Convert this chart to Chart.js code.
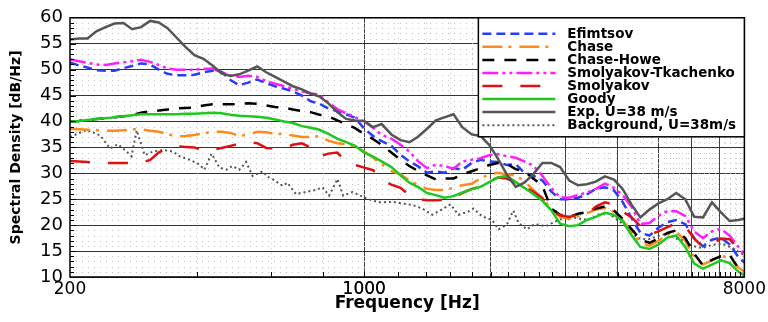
<!DOCTYPE html>
<html>
<head>
<meta charset="utf-8">
<title>Wall pressure spectra</title>
<script src="https://cdn.jsdelivr.net/npm/chart.js@4.4.1/dist/chart.umd.min.js"></script>
<style>
  html, body { margin: 0; padding: 0; background: #fff; }
</style>
</head>
<body>
<canvas id="psdChart" width="768" height="322"></canvas>
<script>
// frequency grid (Hz) shared by the model curves and the measurement
const freqs = [200, 210, 220, 231, 243, 255, 268, 281, 295, 310,
    325, 341, 358, 376, 395, 415, 436, 458, 481, 505,
    530, 557, 585, 614, 645, 677, 711, 746, 783, 822,
    863, 906, 951, 1000, 1050, 1100, 1160, 1220, 1280, 1340,
    1410, 1480, 1550, 1630, 1710, 1800, 1890, 1980, 2080, 2180,
    2290, 2400, 2520, 2650, 2780, 2920, 3070, 3220, 3380, 3550,
    3730, 3920, 4110, 4320, 4530, 4760, 5000, 5250, 5510, 5790,
    6080, 6380, 6700, 7030, 7380, 7750, 8000];

// spectral density, dB/Hz
const efimtsov = [51.4, 50.8, 50.4, 49.9, 49.8, 49.8, 50.3, 50.7, 51.2, 51.0,
    50.0, 49.2, 48.9, 48.9, 49.0, 49.5, 49.8, 49.6, 48.0, 47.0,
    47.5, 48.1, 47.4, 46.8, 46.3, 45.8, 45.0, 43.9, 43.4, 42.5,
    42.0, 41.4, 40.7, 38.6, 37.2, 36.2, 35.3, 33.6, 32.3, 31.4,
    30.1, 30.4, 30.1, 31.0, 30.7, 32.0, 32.6, 32.3, 32.2, 31.6,
    31.8, 30.1, 29.6, 28.6, 26.5, 25.0, 25.0, 25.3, 25.9, 27.0,
    27.3, 26.7, 24.5, 21.3, 18.5, 18.0, 19.5, 20.6, 21.0, 20.2,
    17.5, 15.9, 17.2, 17.6, 16.3, 13.8, 12.8];
const chase = [38.6, 38.5, 38.4, 38.3, 38.2, 38.2, 38.3, 38.5, 38.5, 38.2,
    38.0, 37.6, 37.1, 37.2, 37.4, 37.7, 38.0, 38.0, 37.8, 37.2,
    37.5, 38.0, 37.9, 37.6, 37.6, 37.3, 37.0, 37.0, 37.2, 36.3,
    35.8, 35.6, 35.2, 34.2, 33.0, 31.8, 30.4, 29.8, 28.6, 27.8,
    27.0, 26.8, 26.8, 27.2, 27.7, 28.0, 29.0, 29.8, 30.1, 29.8,
    29.6, 28.5, 26.8, 25.2, 23.2, 21.6, 21.2, 21.7, 22.3, 23.0,
    23.3, 22.6, 21.0, 18.6, 16.6, 16.0, 17.0, 18.2, 18.7, 17.0,
    13.8, 12.4, 13.2, 14.0, 13.8, 11.8, 11.0];
const chaseHowe = [40.0, 40.1, 40.3, 40.5, 40.6, 40.8, 41.0, 41.2, 41.7, 42.0,
    42.1, 42.3, 42.5, 42.6, 42.7, 43.1, 43.3, 43.3, 43.3, 43.4,
    43.5, 43.4, 43.1, 42.8, 42.7, 42.3, 42.0, 41.8, 41.3, 41.0,
    40.2, 39.5, 38.7, 37.6, 36.6, 35.5, 34.0, 32.6, 31.4, 30.5,
    29.6, 28.8, 29.0, 29.0, 29.8, 30.4, 31.0, 31.6, 32.0, 31.8,
    30.8, 30.4, 29.0, 27.6, 23.2, 22.0, 21.6, 22.2, 22.5, 23.2,
    23.6, 22.8, 21.2, 19.2, 17.2, 16.6, 17.4, 18.5, 19.0, 17.5,
    14.5, 12.2, 13.3, 14.0, 14.3, 11.6, 11.0];
const smolTkach = [52.0, 51.6, 51.3, 51.0, 50.9, 51.2, 51.4, 51.6, 51.9, 51.5,
    50.9, 50.2, 50.0, 50.0, 50.0, 50.1, 50.2, 49.5, 48.9, 48.6,
    48.8, 48.6, 47.8, 47.3, 46.8, 46.3, 45.8, 45.4, 45.2, 43.6,
    42.4, 41.6, 40.8, 40.0, 38.8, 37.4, 36.7, 35.5, 34.2, 32.4,
    31.0, 31.7, 31.4, 30.9, 32.3, 32.6, 32.9, 33.5, 33.7, 33.3,
    33.0, 32.3, 31.5, 29.5, 27.2, 25.4, 25.3, 25.8, 26.3, 27.0,
    28.0, 27.2, 25.8, 23.5, 20.2, 20.4, 21.8, 22.7, 22.7, 21.8,
    18.8, 17.5, 18.8, 19.3, 18.0, 15.8, 14.3];
const smolyakov = [32.4, 32.3, 32.2, 32.0, 32.0, 32.0, 32.0, 32.0, 32.0, 32.6,
    34.0, 35.0, 35.2, 35.1, 35.0, 34.3, 34.5, 34.9, 35.3, 35.7,
    36.0, 35.8, 34.9, 34.8, 34.8, 35.5, 35.8, 35.0, 33.3, 33.8,
    34.0, 32.2, 31.6, 31.1, 30.6, 28.9, 27.8, 27.2, 25.8, 25.0,
    24.8, 24.8, 24.9, 25.3, 26.2, 27.0, 27.4, 28.5, 29.2, 29.0,
    28.2, 27.3, 26.5, 25.2, 22.8, 21.9, 21.6, 22.0, 22.1, 23.6,
    24.4, 24.0, 22.6, 21.5, 19.8, 18.2, 18.8, 19.6, 20.4, 19.8,
    17.4, 15.8, 16.4, 17.4, 17.3, 15.4, 14.8];
const goody = [40.0, 40.1, 40.3, 40.5, 40.6, 40.8, 41.0, 41.2, 41.4, 41.4,
    41.4, 41.4, 41.4, 41.5, 41.5, 41.6, 41.7, 41.6, 41.3, 41.1,
    41.0, 40.9, 40.7, 40.4, 40.0, 39.7, 39.1, 38.8, 38.4, 37.6,
    36.7, 36.0, 35.3, 34.0, 33.2, 32.3, 31.2, 29.6, 28.2, 27.4,
    26.2, 25.8, 25.3, 25.6, 26.3, 26.9, 27.4, 28.3, 29.2, 29.5,
    28.3, 27.2, 26.0, 24.7, 22.9, 20.3, 19.8, 20.0, 21.0, 21.6,
    22.4, 22.0, 20.8, 18.0, 15.8, 15.4, 16.3, 17.6, 18.0, 15.8,
    12.6, 11.6, 12.4, 13.2, 12.7, 11.0, 10.3];
const expU38 = [55.8, 56.0, 56.0, 57.4, 58.2, 58.9, 59.0, 57.8, 58.2, 59.4,
    59.1, 58.0, 56.2, 54.4, 52.8, 52.1, 50.8, 49.3, 48.8, 49.1,
    49.8, 50.6, 49.5, 48.6, 47.7, 46.8, 46.2, 45.4, 44.8, 43.5,
    41.8, 40.5, 40.2, 40.1, 38.9, 39.5, 37.5, 36.4, 36.0, 37.0,
    38.6, 40.2, 40.8, 41.4, 38.9, 37.5, 37.2, 35.5, 32.8, 29.8,
    27.4, 28.2, 29.8, 32.0, 32.0, 31.2, 28.6, 27.7, 27.9, 28.4,
    29.4, 28.8, 27.0, 23.9, 21.5, 23.0, 24.2, 25.0, 26.2, 25.0,
    21.6, 21.5, 24.4, 22.5, 20.8, 21.0, 21.3];

// background noise has its own, spikier sampling
const bgFreqs = [200, 219, 236, 249, 260, 270, 280, 288, 293, 301,
    315, 333, 351, 364, 385, 406, 417, 434, 453, 471,
    486, 505, 524, 543, 574, 588, 605, 640, 657, 688,
    727, 768, 796, 825, 864, 891, 938, 1008, 1084, 1166,
    1232, 1301, 1374, 1452, 1519, 1604, 1674, 1768, 1816, 1906,
    2011, 2086, 2181, 2260, 2328, 2436, 2540, 2700, 2841, 3053,
    3222, 3400, 3592, 3792, 4002, 4226, 4460, 4705, 4968, 5243,
    5474, 5732, 6020, 6356, 6715, 7094, 7490, 8000];
const background = [37.0, 38.4, 37.3, 34.8, 35.6, 34.5, 33.3, 38.3, 36.4, 33.5,
    34.2, 34.5, 34.2, 33.3, 32.6, 31.7, 30.7, 33.8, 31.1, 30.7,
    31.4, 30.7, 32.2, 29.5, 30.4, 29.4, 28.9, 27.6, 28.2, 26.0,
    26.4, 26.8, 27.3, 25.7, 28.9, 25.7, 26.4, 25.2, 24.4, 24.5,
    24.2, 23.9, 23.2, 22.0, 22.9, 24.0, 22.0, 22.6, 23.2, 21.7,
    21.0, 19.2, 20.1, 22.8, 20.4, 19.2, 20.2, 19.8, 20.7, 21.7,
    21.3, 21.0, 22.0, 22.3, 21.0, 19.5, 17.5, 17.2, 17.8, 18.4,
    17.5, 17.0, 16.0, 15.6, 16.2, 16.4, 15.6, 14.2];

// axis ticks
const xLabelTicks = [200, 1000, 8000];
const xMajorTicks = [1000, 2000, 3000, 4000, 5000, 6000, 7000];
const xMinorTicks = [400, 600, 800, 1200, 1400, 1600, 1800, 2200, 2400, 2600, 2800,
    3200, 3400, 3600, 3800, 4200, 4400, 4600, 4800, 5200, 5400, 5600, 5800,
    6200, 6400, 6600, 6800, 7200, 7400, 7600, 7800];

const FONT = 'DejaVu Sans';

const pts = (xs, ys) => xs.map((x, i) => ({ x: x, y: ys[i] }));

function series(label, xs, ys, color, dash, order, width) {
    return {
        label: label,
        data: pts(xs, ys),
        borderColor: color,
        borderDash: dash,
        borderWidth: width || 2.5,
        pointRadius: 0,
        fill: false,
        tension: 0,
        order: order
    };
}

// dotted minor grid, inward ticks and the frame
const frameDecor = {
    id: 'frameDecor',
    beforeDatasetsDraw(chart) {
        const { ctx, chartArea: a, scales: { x, y } } = chart;
        ctx.save();
        ctx.strokeStyle = '#c2c2c2';
        ctx.lineWidth = 1;
        ctx.setLineDash([1, 5]);
        for (let v = 11; v < 60; v++) {
            if (v % 5 === 0) continue;
            const py = Math.round(y.getPixelForValue(v)) + 0.5;
            ctx.beginPath();
            ctx.moveTo(a.left, py);
            ctx.lineTo(a.right, py);
            ctx.stroke();
        }
        ctx.setLineDash([1, 4]);
        xMinorTicks.forEach(f => {
            const px = Math.round(x.getPixelForValue(f)) + 0.5;
            ctx.beginPath();
            ctx.moveTo(px, a.top);
            ctx.lineTo(px, a.bottom);
            ctx.stroke();
        });
        ctx.restore();
    },
    afterDatasetsDraw(chart) {
        const { ctx, chartArea: a, scales: { x, y } } = chart;
        ctx.save();
        ctx.strokeStyle = '#000';
        ctx.lineWidth = 1;
        ctx.setLineDash([]);
        for (let v = 11; v < 60; v++) {
            const py = Math.round(y.getPixelForValue(v)) + 0.5;
            ctx.beginPath();
            ctx.moveTo(a.left, py);
            ctx.lineTo(a.left + (v % 5 === 0 ? 6 : 4), py);
            ctx.stroke();
        }
        xMinorTicks.concat(xMajorTicks).forEach(f => {
            const px = Math.round(x.getPixelForValue(f)) + 0.5;
            ctx.beginPath();
            ctx.moveTo(px, a.bottom);
            ctx.lineTo(px, a.bottom - 5);
            ctx.stroke();
        });
        ctx.lineWidth = 1.5;
        ctx.strokeRect(a.left, a.top, a.right - a.left, a.bottom - a.top);
        ctx.restore();
    }
};

// legend box drawn inside the plot, top right
const insetLegend = {
    id: 'insetLegend',
    afterDraw(chart) {
        const { ctx, chartArea: a } = chart;
        const left = a.right - 266;
        const top = a.top;
        const bottom = a.top + 119;
        ctx.save();
        ctx.fillStyle = '#fff';
        ctx.fillRect(left, top, a.right - left, bottom - top);
        ctx.strokeStyle = '#000';
        ctx.lineWidth = 1.5;
        ctx.strokeRect(left, top, a.right - left, bottom - top);
        ctx.font = 'bold 13.5px "' + FONT + '"';
        ctx.textBaseline = 'middle';
        chart.data.datasets.forEach((ds, i) => {
            const ry = top + 16 + i * 13.05;
            ctx.strokeStyle = ds.borderColor;
            ctx.lineWidth = ds.borderWidth;
            ctx.setLineDash(ds.borderDash || []);
            ctx.beginPath();
            ctx.moveTo(left + 4, ry);
            ctx.lineTo(left + 77, ry);
            ctx.stroke();
            ctx.setLineDash([]);
            ctx.fillStyle = '#000';
            ctx.fillText(ds.label, left + 89, ry + 0.5);
        });
        ctx.restore();
    }
};

new Chart(document.getElementById('psdChart'), {
    type: 'line',
    data: {
        datasets: [
            series('Efimtsov', freqs, efimtsov, '#2b3cf2', [9, 5], 6),
            series('Chase', freqs, chase, '#ff8a1c', [20, 6, 3, 8], 5),
            series('Chase-Howe', freqs, chaseHowe, '#000000', [12, 10], 4),
            series('Smolyakov-Tkachenko', freqs, smolTkach, '#ff1cff', [16, 4, 3, 4, 3, 4], 3),
            series('Smolyakov', freqs, smolyakov, '#dd1111', [20, 18], 2),
            series('Goody', freqs, goody, '#1ec81e', [], 1),
            series('Exp. U=38 m/s', freqs, expU38, '#555555', [], 0),
            series('Background, U=38m/s', bgFreqs, background, '#555555', [2, 3], 7, 2)
        ]
    },
    options: {
        responsive: false,
        animation: false,
        layout: { padding: { left: 0, right: 22, top: 11, bottom: 0 } },
        plugins: {
            legend: { display: false },
            tooltip: { enabled: false }
        },
        scales: {
            x: {
                type: 'logarithmic',
                min: 200,
                max: 8000,
                afterBuildTicks: s => { s.ticks = xLabelTicks.concat(xMajorTicks).sort((p, q) => p - q).map(v => ({ value: v })); },
                afterFit: s => { s.height = 45; },
                ticks: {
                    autoSkip: false,
                    maxRotation: 0,
                    padding: 2,
                    color: '#000',
                    font: { family: FONT, size: 17 },
                    callback: v => xLabelTicks.includes(v) ? String(v) : ''
                },
                grid: {
                    drawTicks: false,
                    lineWidth: 1,
                    color: c => (c.tick && xMajorTicks.includes(c.tick.value)) ? '#444' : 'rgba(0,0,0,0)'
                },
                border: { display: false },
                title: {
                    display: true,
                    text: 'Frequency [Hz]',
                    color: '#000',
                    font: { family: FONT, size: 17, weight: 'bold' },
                    padding: { top: 0, bottom: 8 }
                }
            },
            y: {
                min: 10,
                max: 60,
                afterFit: s => { s.width = 70; },
                ticks: {
                    stepSize: 5,
                    padding: 7,
                    color: '#000',
                    font: { family: FONT, size: 18 }
                },
                grid: { drawTicks: false, lineWidth: 1, color: '#333' },
                border: { display: false },
                title: {
                    display: true,
                    text: 'Spectral Density [dB/Hz]',
                    color: '#000',
                    font: { family: FONT, size: 14, weight: 'bold' },
                    padding: { top: 8, bottom: 0 }
                }
            }
        }
    },
    plugins: [frameDecor, insetLegend]
});
</script>
</body>
</html>
